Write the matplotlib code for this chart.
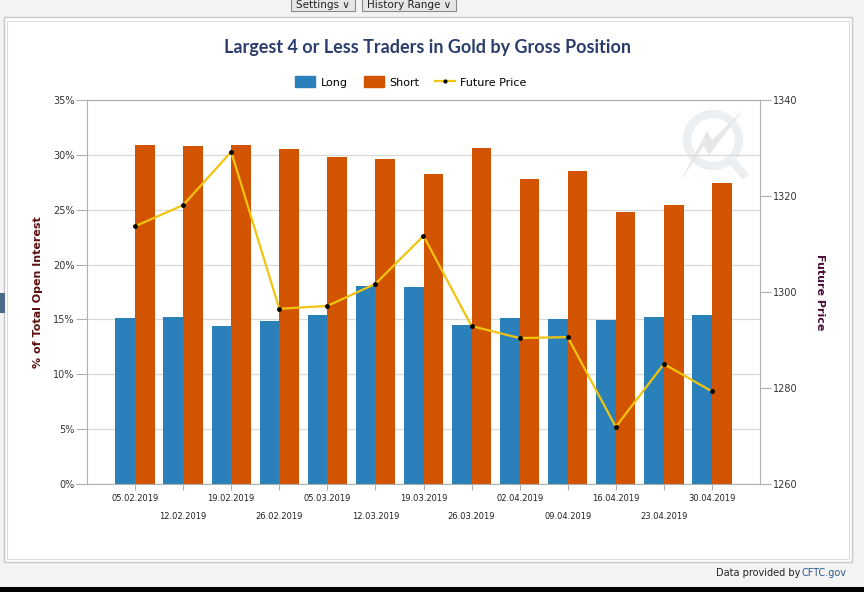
import matplotlib
matplotlib.use("Agg")
import matplotlib.pyplot as plt
import numpy as np
from matplotlib.lines import Line2D
from matplotlib.patches import Patch, Rectangle, Ellipse, Polygon

# --- data ---
dates = ["05.02.2019", "12.02.2019", "19.02.2019", "26.02.2019", "05.03.2019",
         "12.03.2019", "19.03.2019", "26.03.2019", "02.04.2019", "09.04.2019",
         "16.04.2019", "23.04.2019", "30.04.2019"]
long_pct = [15.1, 15.2, 14.4, 14.85, 15.4, 18.05, 17.95, 14.5, 15.1, 15.0, 14.95, 15.2, 15.4]
short_pct = [30.9, 30.8, 30.9, 30.5, 29.8, 29.6, 28.3, 30.6, 27.8, 28.5, 24.8, 25.4, 27.4]
price = [1313.7, 1318.1, 1329.2, 1296.5, 1297.1, 1301.7, 1311.7,
         1292.9, 1290.4, 1290.6, 1271.9, 1285.0, 1279.3]

C_LONG = "#2a80b9"
C_SHORT = "#d35400"
C_PRICE = "#f1c40f"
GRID = "#d9d9d9"
AXC = "#b0b0b0"

W, H = 864, 592
fig = plt.figure(figsize=(W / 100, H / 100), dpi=100, facecolor="#f3f3f3")

def fx(px):
    return px / W

def fy(py):
    return 1 - py / H

# page chrome: white panel, buttons, footer
fig.patches.append(Rectangle((fx(4), fy(562)), fx(852 - 4), (562 - 17) / H,
                             transform=fig.transFigure, facecolor="#ffffff",
                             edgecolor="#c8c8c8", lw=1.0, zorder=-5))
fig.patches.append(Rectangle((fx(7), fy(559)), fx(849 - 7), (559 - 21) / H,
                             transform=fig.transFigure, facecolor="#ffffff",
                             edgecolor="#dcdcdc", lw=0.8, zorder=-4))
for x0, x1, lab in [(291, 355, "Settings \u2228"), (362, 456, "History Range \u2228")]:
    fig.patches.append(Rectangle((fx(x0), fy(11)), fx(x1 - x0), 20 / H,
                                 transform=fig.transFigure, facecolor="#e6e6e6",
                                 edgecolor="#8a8a8a", lw=0.8, zorder=1))
    fig.text(fx((x0 + x1) / 2), fy(5), lab, ha="center", va="center",
             fontsize=7.5, color="#222222")
fig.patches.append(Rectangle((0, 0), 1, 5 / H, transform=fig.transFigure,
                             facecolor="#000000", lw=0, zorder=1))
fig.patches.append(Rectangle((0, fy(313)), fx(5), 20 / H, transform=fig.transFigure,
                             facecolor="#4a6a8c", lw=0, zorder=1))
fig.text(fx(800), fy(573), "Data provided by", ha="right", va="center",
         fontsize=7, color="#222222")
fig.text(fx(802), fy(573), "CFTC.gov", ha="left", va="center",
         fontsize=7, color="#2a5a8c")

# faint watermark logo (ring + tail + bolt)
fig.patches.append(Ellipse((fx(713), fy(140)), 52 / W, 52 / H, transform=fig.transFigure,
                           fill=False, edgecolor="#edf0f3", lw=6, zorder=-3))
fig.lines.append(Line2D([fx(733), fx(746)], [fy(162), fy(177)], transform=fig.transFigure,
                        color="#edf0f3", lw=6, solid_capstyle="butt", zorder=-3))
bolt = [(680, 182), (704, 146), (709, 155), (743, 110), (712, 140), (707, 131)]
fig.patches.append(Polygon([(fx(a), fy(b)) for a, b in bolt], closed=True,
                           transform=fig.transFigure, facecolor="#e6e7e9",
                           edgecolor="none", zorder=-3))

# main axes
ax = fig.add_axes([fx(87), fy(484), fx(760 - 87), (484 - 100) / H])
ax.set_facecolor("none")
x = np.arange(len(dates))
bw = 0.41
ax.bar(x - bw / 2, long_pct, width=bw, color=C_LONG, zorder=3)
ax.bar(x + bw / 2, short_pct, width=bw, color=C_SHORT, zorder=3)
ax.set_xlim(-1, len(dates))
ax.set_ylim(0, 35)
ax.set_yticks(np.arange(0, 36, 5))
ax.set_yticklabels([f"{v}%" for v in range(0, 36, 5)])
ax.grid(axis="y", color=GRID, lw=0.9, zorder=0)
for s in ax.spines.values():
    s.set_color(AXC)
ax.spines["top"].set_color("#a8a8a8")
ax.tick_params(axis="y", length=8, width=0.8, color=AXC, labelsize=7,
               labelcolor="#333333", pad=1)
ax.set_xticks(x)
ax.set_xticklabels([d if i % 2 == 0 else "\n" + d for i, d in enumerate(dates)],
                   fontsize=6, color="#222222", linespacing=2.2)
ax.tick_params(axis="x", length=4, width=0.8, color=AXC, pad=3.5)
ax.set_ylabel("% of Total Open Interest", fontsize=8, fontweight="bold",
              color="#5c1010", labelpad=7)

ax2 = ax.twinx()
ax2.plot(x, price, color=C_PRICE, lw=1.6, marker="o", ms=2.5,
         mfc="black", mec="black", zorder=5)
ax2.set_ylim(1260, 1340)
ax2.set_yticks(np.arange(1260, 1341, 20))
for s in ax2.spines.values():
    s.set_visible(False)
ax2.tick_params(axis="y", length=8, width=0.8, color=AXC, labelsize=7,
                labelcolor="#333333", pad=1)
ax2.set_ylabel("Future Price", fontsize=8, fontweight="bold", color="#4b0f3a",
               rotation=270, labelpad=20)

fig.text(fx(428), fy(47), "Largest 4 or Less Traders in Gold by Gross Position",
         ha="center", va="center", fontsize=13, fontweight="bold",
         family=["Lato", "DejaVu Sans"], color="#2b3d6b")

handles = [Patch(color=C_LONG, label="Long"),
           Patch(color=C_SHORT, label="Short"),
           Line2D([0], [0], color=C_PRICE, lw=1.6, marker="o", ms=2,
                  mfc="black", mec="black", label="Future Price")]
fig.legend(handles=handles, loc="center", bbox_to_anchor=(fx(411), fy(82)),
           ncol=3, frameon=False, fontsize=8, handlelength=1.8, handleheight=1.1,
           columnspacing=1.4, handletextpad=0.5)

fig.savefig("out.png", dpi=100, facecolor=fig.get_facecolor())
